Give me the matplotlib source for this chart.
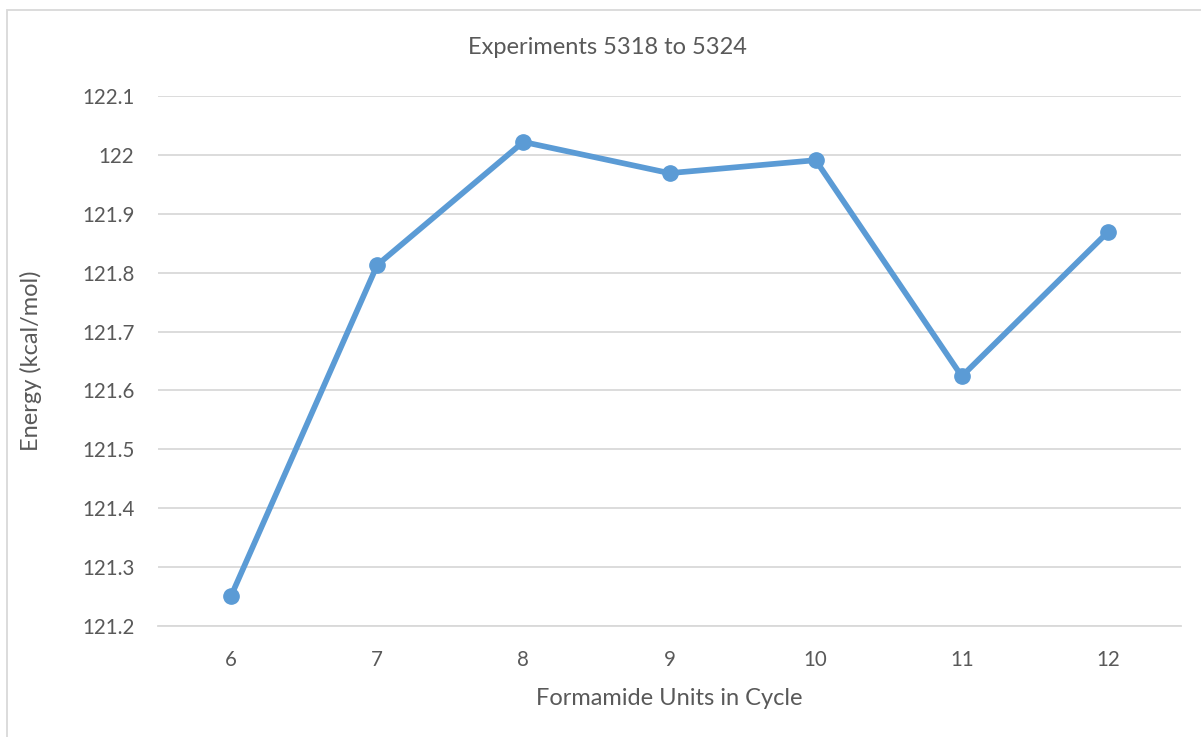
import matplotlib
matplotlib.use("Agg")
import matplotlib.pyplot as plt
from matplotlib.patches import Rectangle

categories = ["6", "7", "8", "9", "10", "11", "12"]
energy = [121.251, 121.813, 122.022, 121.969, 121.991, 121.624, 121.869]
yticks = [121.2, 121.3, 121.4, 121.5, 121.6, 121.7, 121.8, 121.9, 122.0, 122.1]
ytick_labels = ["121.2", "121.3", "121.4", "121.5", "121.6", "121.7", "121.8", "121.9", "122", "122.1"]

plt.rcParams['font.family'] = ['Lato', 'DejaVu Sans']
txt = '#595959'
grid = '#d9d9d9'

fig = plt.figure(figsize=(12.01, 7.37), dpi=100)
fig.patches.append(Rectangle((7/1201, -20/737), 1220/1201, 747/737, transform=fig.transFigure,
                             fill=False, edgecolor='#d9d9d9', linewidth=1.3))
ax = fig.add_axes([158/1201, 111/737, 1023/1201, 530/737])
x = list(range(len(categories)))
ax.plot(x, energy, color='#5B9BD5', linewidth=4.1, marker='o', markersize=11, zorder=3)
ax.set_xlim(-0.5, len(categories) - 0.5)
ax.set_ylim(121.2, 122.1)
ax.set_xticks(x)
ax.set_xticklabels(categories)
ax.set_yticks(yticks)
ax.set_yticklabels(ytick_labels)
ax.grid(axis='y', color=grid, linewidth=1.3)
ax.set_axisbelow(True)
for s in ['top', 'right', 'left']:
    ax.spines[s].set_visible(False)
ax.spines['bottom'].set_color(grid)
ax.spines['bottom'].set_linewidth(1.3)
ax.tick_params(axis='both', length=0, labelsize=14.8, colors=txt)
ax.tick_params(axis='x', pad=17)
ax.tick_params(axis='y', pad=17)
fig.text(607/1201, 1 - 47/737, "Experiments 5318 to 5324", fontsize=17, color=txt,
         ha='center', va='center')
ax.set_xlabel("Formamide Units in Cycle", fontsize=17, color=txt, labelpad=13)
ax.set_ylabel("Energy (kcal/mol)", fontsize=17, color=txt)
ax.yaxis.set_label_coords(-0.113, 0.5)
fig.savefig("out.png", dpi=100)
